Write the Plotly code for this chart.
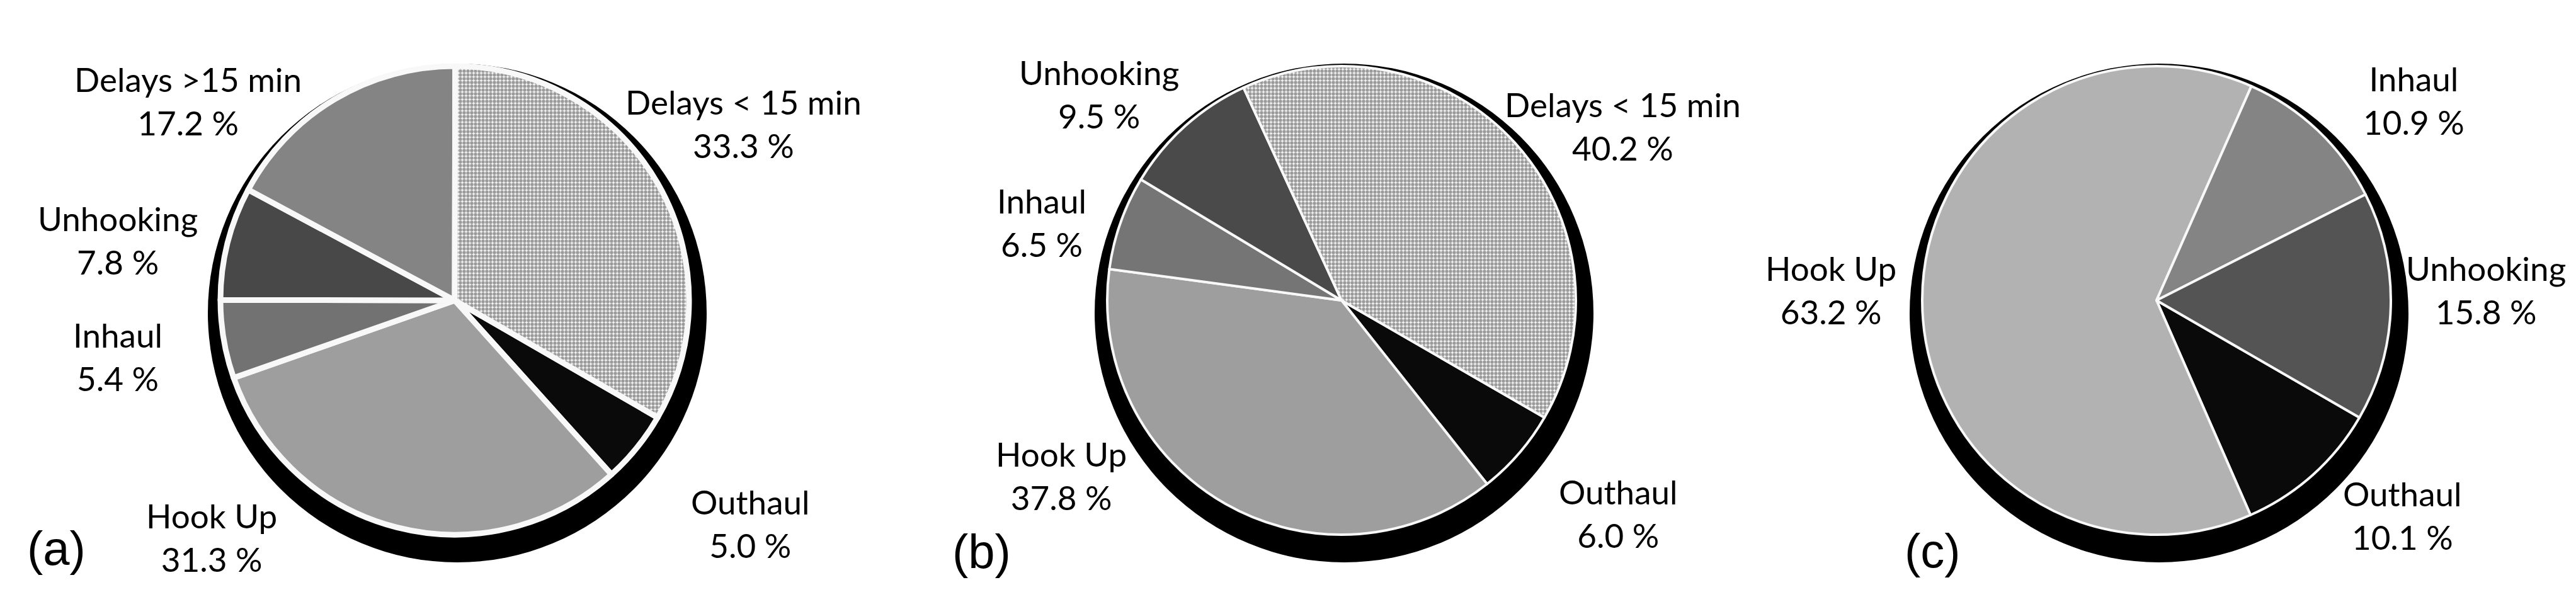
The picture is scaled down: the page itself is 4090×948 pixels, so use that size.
import plotly.graph_objects as go

W, H = 4090, 948

# slices listed clockwise, first one starting at about 4 o'clock (as in the source)
labels_a = ["Outhaul", "Hook Up", "Inhaul", "Unhooking", "Delays >15 min", "Delays < 15 min"]
values_a = [5.0, 31.3, 5.4, 7.8, 17.2, 33.3]

labels_b = ["Outhaul", "Hook Up", "Inhaul", "Unhooking", "Delays < 15 min"]
values_b = [6.0, 37.8, 6.5, 9.5, 40.2]

labels_c = ["Outhaul", "Hook Up", "Inhaul", "Unhooking"]
values_c = [10.1, 63.2, 10.9, 15.8]

panel_tags = ["(a)", "(b)", "(c)"]

# styling
colors_a = ["#0a0a0a", "#9e9e9e", "#727272", "#484848", "#848484", "#cfcfcf"]
colors_b = ["#0a0a0a", "#9e9e9e", "#757575", "#4a4a4a", "#cfcfcf"]
colors_c = ["#0a0a0a", "#b2b2b2", "#848484", "#545454"]

# pie centres (px from left/top) and radius
centers = [(714, 469), (2122, 469), (3416, 469)]
R = 372
line_widths = [9, 4, 4]

# label centres in px, keyed by slice label
label_pos = [
    {"Outhaul": (1183, 823), "Hook Up": (328, 845), "Inhaul": (179, 558),
     "Unhooking": (179, 373), "Delays >15 min": (290, 152), "Delays < 15 min": (1172, 188)},
    {"Outhaul": (2561, 807), "Hook Up": (1677, 747), "Inhaul": (1646, 345),
     "Unhooking": (1737, 141), "Delays < 15 min": (2568, 192)},
    {"Outhaul": (3806, 810), "Hook Up": (2899, 452), "Inhaul": (3824, 151),
     "Unhooking": (3939, 452)},
]
tag_pos = [(81, 862), (1550, 867), (3060, 866)]


def px_x(x):
    return x / W


def px_y(y):
    return 1 - y / H


fig = go.Figure()
annotations = []
shapes = []

panels = [(labels_a, values_a, colors_a), (labels_b, values_b, colors_b), (labels_c, values_c, colors_c)]
for i, (labels, values, colors) in enumerate(panels):
    cx, cy = centers[i]
    # black drop shadow behind each pie
    shapes.append(dict(type="circle", xref="paper", yref="paper", layer="below",
                       x0=px_x(cx + 4 - R - 24), x1=px_x(cx + 4 + R + 24),
                       y0=px_y(cy + 20 + R + 24), y1=px_y(cy + 20 - R - 24),
                       fillcolor="black", line=dict(width=0)))
    shape = ["." if lb == "Delays < 15 min" else "" for lb in labels]
    fig.add_trace(go.Pie(
        labels=labels, values=values, sort=False, direction="clockwise", rotation=120,
        textinfo="none", hoverinfo="label+value", showlegend=False,
        domain=dict(x=[px_x(cx - R), px_x(cx + R)], y=[px_y(cy + R), px_y(cy - R)]),
        marker=dict(colors=colors, line=dict(color="#f8f8f8", width=line_widths[i]),
                    pattern=dict(shape=shape, fgcolor="#9a9a9a", bgcolor="#f4f4f4",
                                 size=6, solidity=0.62)),
    ))
    for lb, v in zip(labels, values):
        x, y = label_pos[i][lb]
        annotations.append(dict(text=f"{lb}<br>{v:.1f} %", x=px_x(x), y=px_y(y),
                                xref="paper", yref="paper", showarrow=False,
                                xanchor="center", yanchor="middle", align="center",
                                font=dict(family="Lato", size=53, color="black")))
    tx, ty = tag_pos[i]
    annotations.append(dict(text=panel_tags[i], x=px_x(tx), y=px_y(ty), xref="paper", yref="paper",
                            showarrow=False, xanchor="center", yanchor="middle",
                            font=dict(family="Liberation Sans", size=76, color="black")))

fig.update_layout(width=W, height=H, margin=dict(l=0, r=0, t=0, b=0),
                  paper_bgcolor="white", plot_bgcolor="white",
                  annotations=annotations, shapes=shapes)
fig.write_html("out.html")
